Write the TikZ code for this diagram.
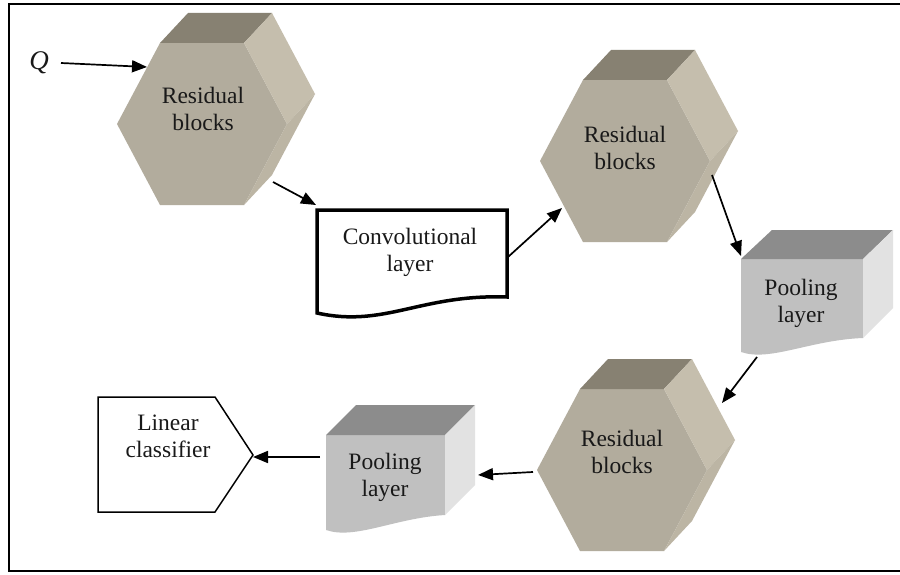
\documentclass[tikz,border=0pt]{standalone}
\usepackage{fontspec}
\setmainfont{Liberation Serif}
\usetikzlibrary{arrows.meta}
\definecolor{hexfront}{RGB}{178,172,157}
\definecolor{hextop}{RGB}{135,129,114}
\definecolor{hexside}{RGB}{197,190,173}
\definecolor{hexsidelow}{RGB}{188,181,164}
\definecolor{poolfront}{RGB}{192,192,192}
\definecolor{pooltop}{RGB}{140,140,140}
\definecolor{poolside}{RGB}{226,226,226}
\newcommand{\hexblk}[2]{%
  \begin{scope}[shift={(#1,#2)}]
    \fill[hexfront] (-85,0)--(-42,-81)--(42,-81)--(85,0)--(42,81)--(-42,81)--cycle;
    \fill[hextop] (-42,-81)--(-14,-111)--(70,-111)--(42,-81)--cycle;
    \fill[hexside] (42,-81)--(70,-111)--(113,-30)--(85,0)--cycle;
    \fill[hexsidelow] (85,0)--(113,-30)--(70,51)--(42,81)--cycle;
  \end{scope}}
\tikzset{
  lbl/.style={align=center, inner sep=0pt, font=\fontsize{23.5}{27}\selectfont, text=black!90},
  arr/.style={line width=1.7pt, -{Triangle[length=15pt,width=12pt]}},
}
\begin{document}
\begin{tikzpicture}[x=1pt,y=-1pt]
\useasboundingbox (0,0) rectangle (900,575);
\fill[white] (0,0) rectangle (900,575);
% frame (right side lies outside the picture)
\draw[line width=2pt] (905,4) -- (9,4) -- (9,571) -- (905,571);

% residual blocks
\hexblk{202}{124}
\hexblk{625}{161}
\hexblk{622}{470}
\node[lbl] (h1) at (203,109) {Residual\\blocks};
\node[lbl] (h2) at (625,148) {Residual\\blocks};
\node[lbl] (h3) at (622,452) {Residual\\blocks};

% convolutional layer
\draw[line width=3.5pt, fill=white] (317,210) -- (507,210) -- (507,297)
  .. controls (420,294) and (385,328) .. (317,313) -- cycle;
\node[lbl] (conv) at (410,252) {Convolutional\\layer};

% pooling layer 1
\fill[poolfront] (741,259) -- (863,259) -- (863,338)
  .. controls (810,340) and (770,362) .. (741,352) -- cycle;
\fill[pooltop] (741,259) -- (772,230) -- (893,230) -- (863,259) -- cycle;
\fill[poolside] (863,259) -- (893,230) -- (893,308) -- (863,338) -- cycle;
\node[lbl] (p1) at (801,303) {Pooling\\layer};

% pooling layer 2
\fill[poolfront] (326,435) -- (445,435) -- (445,515)
  .. controls (395,518) and (355,540) .. (326,530) -- cycle;
\fill[pooltop] (326,435) -- (356,405) -- (475,405) -- (445,435) -- cycle;
\fill[poolside] (445,435) -- (475,405) -- (475,485) -- (445,515) -- cycle;
\node[lbl] (p2) at (385,477) {Pooling\\layer};

% linear classifier
\draw[line width=1.5pt, fill=white] (98,397) -- (215,397) -- (253,455) -- (215,512) -- (98,512) -- cycle;
\node[lbl] (lin) at (168,436) {Linear\\classifier};

% input
\node[lbl, font=\fontsize{27}{27}\selectfont\itshape] (q) at (39,63) {Q};

% connector end points
\coordinate (qs) at (61,63);   \coordinate (qe) at (147,67);
\coordinate (a1s) at (273,182); \coordinate (a1e) at (316,205);
\coordinate (a2s) at (508,257); \coordinate (a2e) at (562,208);
\coordinate (a3s) at (712,175); \coordinate (a3e) at (741,256);
\coordinate (a4s) at (757,357); \coordinate (a4e) at (722,403);
\coordinate (a5s) at (533,472); \coordinate (a5e) at (478,475);
\coordinate (a6s) at (320,457); \coordinate (a6e) at (253,457);

\draw[arr] (qs) -- (qe);
\draw[arr] (a1s) -- (a1e);
\draw[arr] (a2s) -- (a2e);
\draw[arr] (a3s) -- (a3e);
\draw[arr] (a4s) -- (a4e);
\draw[arr] (a5s) -- (a5e);
\draw[arr] (a6s) -- (a6e);
\end{tikzpicture}
\end{document}
